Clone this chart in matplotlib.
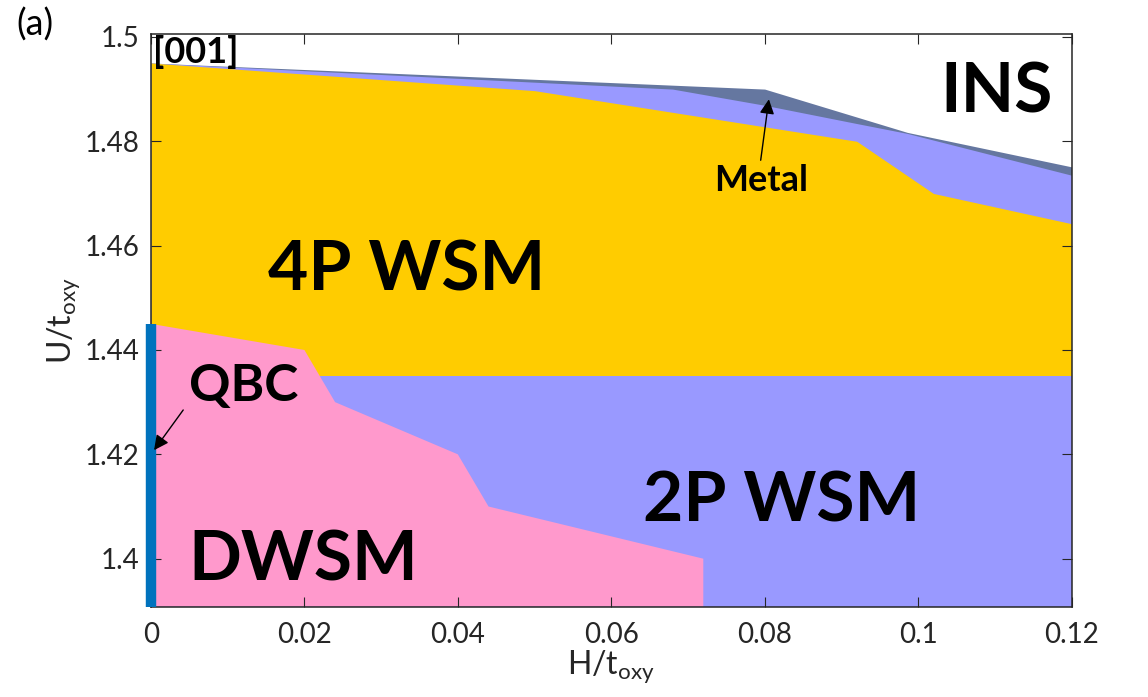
import matplotlib
matplotlib.use("Agg")
import matplotlib.pyplot as plt
import numpy as np

plt.rcParams['font.family'] = ['Lato', 'DejaVu Sans']
plt.rcParams['mathtext.fontset'] = 'custom'
plt.rcParams['mathtext.rm'] = 'Lato'
plt.rcParams['mathtext.it'] = 'Lato:italic'
plt.rcParams['mathtext.bf'] = 'Lato:bold'

# ---- data: phase boundaries (H/t_oxy, U/t_oxy) ----
y_min, y_max = 1.3908, 1.5005
u_split = 1.435          # boundary between 4P WSM (above) and 2P WSM (below)

# INS / Metal boundary
metal_top_x = [0.0, 0.08, 0.0986, 0.12]
metal_top_y = [1.4950, 1.4900, 1.4817, 1.4751]

# Metal / 2P WSM (upper) boundary
wsm2_top_x = [0.0, 0.068, 0.08, 0.092, 0.0986, 0.12]
wsm2_top_y = [1.4950, 1.4900, 1.4869, 1.4834, 1.4815, 1.4735]

# 2P WSM (upper) / 4P WSM boundary
wsm4_top_x = [0.0, 0.05, 0.092, 0.102, 0.12]
wsm4_top_y = [1.4950, 1.4897, 1.4800, 1.4700, 1.4642]

# DWSM region boundary
dwsm_x = [0.0, 0.0, 0.02, 0.024, 0.04, 0.044, 0.072, 0.072]
dwsm_y = [y_min, 1.445, 1.44, 1.43, 1.42, 1.41, 1.40, y_min]

# QBC line at H = 0
qbc_y = [y_min, 1.445]

x_ticks = [0, 0.02, 0.04, 0.06, 0.08, 0.1, 0.12]
x_ticklabels = ['0', '0.02', '0.04', '0.06', '0.08', '0.1', '0.12']
y_ticks = [1.40, 1.42, 1.44, 1.46, 1.48, 1.50]
y_ticklabels = ['1.4', '1.42', '1.44', '1.46', '1.48', '1.5']

c_yellow = '#FFCC00'
c_blue = '#9999FF'
c_gray = '#6577A0'
c_pink = '#FF99CC'
c_qbc = '#0072BD'
c_axis = '#262626'

fig = plt.figure(figsize=(11.48, 6.97), dpi=100)
ax = fig.add_axes([151/1148, 1 - 606.7/697, (1071.5 - 151)/1148, (606.7 - 34.3)/697])

ax.fill_between(metal_top_x, u_split, metal_top_y, color=c_gray, lw=0, zorder=1)
ax.fill_between(wsm2_top_x, u_split, wsm2_top_y, color=c_blue, lw=0, zorder=1.1)
ax.fill_between(wsm4_top_x, u_split, wsm4_top_y, color=c_yellow, lw=0, zorder=1.2)
ax.fill_between([0, 0.12], y_min, u_split, color=c_blue, lw=0, zorder=1.3)
ax.fill(dwsm_x, dwsm_y, color=c_pink, lw=0, zorder=1.4)

ax.plot([0, 0], qbc_y, color=c_qbc, lw=7.5, solid_capstyle='butt',
        clip_on=False, zorder=3)

ax.set_xlim(0, 0.12)
ax.set_ylim(y_min, y_max)
ax.set_xticks(x_ticks)
ax.set_xticklabels(x_ticklabels)
ax.set_yticks(y_ticks)
ax.set_yticklabels(y_ticklabels)
ax.tick_params(direction='in', length=7, width=0.8, colors=c_axis,
               labelsize=20, top=True, right=True)
ax.tick_params(axis='x', pad=11)
ax.tick_params(axis='y', pad=8)
for s in ax.spines.values():
    s.set_linewidth(1.1)
    s.set_color(c_axis)
    s.set_zorder(2.5)

ax.set_xlabel(r'H/t$_{\mathrm{oxy}}$', fontsize=23, color=c_axis, labelpad=0)
ax.set_ylabel(r'U/t$_{\mathrm{oxy}}$', fontsize=23, color=c_axis, labelpad=2)

big = dict(fontsize=50, fontweight='bold', ha='center', va='baseline', color='k', zorder=5)
ax.text(0.1102, 1.4856, 'INS', **big)
ax.text(0.0333, 1.4514, '4P WSM', **big)
ax.text(0.0822, 1.40705, '2P WSM', **big)
ax.text(0.0198, 1.3958, 'DWSM', **big)
ax.text(0.0121, 1.4302, 'QBC', fontsize=37, fontweight='bold', ha='center',
        va='baseline', color='k', zorder=5)
ax.text(0.0795, 1.4704, 'Metal', fontsize=26, fontweight='bold', ha='center',
        va='baseline', color='k', zorder=5)
ax.text(0.002, 0.999, '[001]', transform=ax.transAxes, fontsize=26,
        fontweight='bold', ha='left', va='top', color='k', zorder=5)

arrow = dict(arrowstyle='-|>', color='k', lw=1.0, mutation_scale=22,
             shrinkA=0, shrinkB=0)
ax.annotate('', xy=(0.08055, 1.48805), xytext=(0.07948, 1.47636),
            arrowprops=arrow, zorder=6)
ax.annotate('', xy=(0.0004, 1.4208), xytext=(0.0042, 1.4285),
            arrowprops=arrow, zorder=6)

fig.text(16/1148, 1 - 8/697, '(a)', fontsize=26, ha='left', va='top', color='k')

fig.savefig('out.png', dpi=100)
